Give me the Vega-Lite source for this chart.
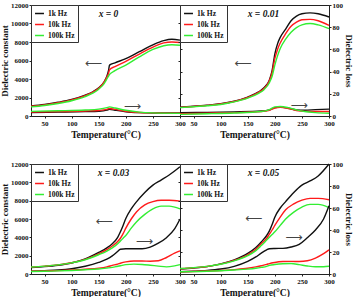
{
  "$schema": "https://vega.github.io/schema/vega-lite/v6.json",
  "padding": {"left": 0, "top": 0, "right": 0, "bottom": 0},
  "background": "white",
  "data": {
    "values": [
      {"p":"0","q":"c","T":25,"1k Hz":1100,"10k Hz":1050,"100k Hz":980},
      {"p":"0","q":"c","T":50,"1k Hz":1250,"10k Hz":1200,"100k Hz":1130},
      {"p":"0","q":"c","T":75,"1k Hz":1480,"10k Hz":1430,"100k Hz":1350},
      {"p":"0","q":"c","T":100,"1k Hz":1780,"10k Hz":1730,"100k Hz":1650},
      {"p":"0","q":"c","T":125,"1k Hz":2250,"10k Hz":2200,"100k Hz":2100},
      {"p":"0","q":"c","T":140,"1k Hz":2650,"10k Hz":2600,"100k Hz":2500},
      {"p":"0","q":"c","T":150,"1k Hz":3050,"10k Hz":3000,"100k Hz":2900},
      {"p":"0","q":"c","T":160,"1k Hz":3700,"10k Hz":3650,"100k Hz":3500},
      {"p":"0","q":"c","T":165,"1k Hz":4300,"10k Hz":4200,"100k Hz":4000},
      {"p":"0","q":"c","T":168,"1k Hz":4900,"10k Hz":4600,"100k Hz":4300},
      {"p":"0","q":"c","T":170,"1k Hz":5500,"10k Hz":5000,"100k Hz":4500},
      {"p":"0","q":"c","T":180,"1k Hz":5750,"10k Hz":5350,"100k Hz":4900},
      {"p":"0","q":"c","T":200,"1k Hz":6200,"10k Hz":5900,"100k Hz":5500},
      {"p":"0","q":"c","T":225,"1k Hz":6950,"10k Hz":6700,"100k Hz":6400},
      {"p":"0","q":"c","T":250,"1k Hz":7700,"10k Hz":7450,"100k Hz":7200},
      {"p":"0","q":"c","T":270,"1k Hz":8150,"10k Hz":7900,"100k Hz":7600},
      {"p":"0","q":"c","T":285,"1k Hz":8300,"10k Hz":8000,"100k Hz":7700},
      {"p":"0","q":"c","T":300,"1k Hz":8200,"10k Hz":7950,"100k Hz":7650},

      {"p":"0","q":"l","T":25,"1k Hz":3.2,"10k Hz":3.6,"100k Hz":4.2},
      {"p":"0","q":"l","T":75,"1k Hz":3.5,"10k Hz":4,"100k Hz":4.7},
      {"p":"0","q":"l","T":125,"1k Hz":3.9,"10k Hz":4.5,"100k Hz":5.4},
      {"p":"0","q":"l","T":150,"1k Hz":4.3,"10k Hz":5,"100k Hz":6.2},
      {"p":"0","q":"l","T":165,"1k Hz":5.3,"10k Hz":6,"100k Hz":7.5},
      {"p":"0","q":"l","T":170,"1k Hz":6,"10k Hz":6.8,"100k Hz":8.2},
      {"p":"0","q":"l","T":180,"1k Hz":5.2,"10k Hz":6,"100k Hz":7.2},
      {"p":"0","q":"l","T":200,"1k Hz":3.8,"10k Hz":4.3,"100k Hz":5.2},
      {"p":"0","q":"l","T":225,"1k Hz":3,"10k Hz":3.2,"100k Hz":3.5},
      {"p":"0","q":"l","T":250,"1k Hz":2.7,"10k Hz":2.8,"100k Hz":2.8},
      {"p":"0","q":"l","T":300,"1k Hz":2.7,"10k Hz":2.5,"100k Hz":2.4},

      {"p":"0.01","q":"c","T":25,"1k Hz":950,"10k Hz":930,"100k Hz":900},
      {"p":"0.01","q":"c","T":50,"1k Hz":1050,"10k Hz":1030,"100k Hz":1000},
      {"p":"0.01","q":"c","T":75,"1k Hz":1170,"10k Hz":1150,"100k Hz":1110},
      {"p":"0.01","q":"c","T":100,"1k Hz":1320,"10k Hz":1300,"100k Hz":1250},
      {"p":"0.01","q":"c","T":125,"1k Hz":1600,"10k Hz":1570,"100k Hz":1520},
      {"p":"0.01","q":"c","T":150,"1k Hz":2050,"10k Hz":2000,"100k Hz":1930},
      {"p":"0.01","q":"c","T":170,"1k Hz":2600,"10k Hz":2550,"100k Hz":2450},
      {"p":"0.01","q":"c","T":180,"1k Hz":3050,"10k Hz":2980,"100k Hz":2850},
      {"p":"0.01","q":"c","T":190,"1k Hz":3900,"10k Hz":3800,"100k Hz":3600},
      {"p":"0.01","q":"c","T":195,"1k Hz":4900,"10k Hz":4700,"100k Hz":4300},
      {"p":"0.01","q":"c","T":200,"1k Hz":6700,"10k Hz":6200,"100k Hz":5500},
      {"p":"0.01","q":"c","T":205,"1k Hz":7800,"10k Hz":7200,"100k Hz":6500},
      {"p":"0.01","q":"c","T":210,"1k Hz":8500,"10k Hz":7900,"100k Hz":7300},
      {"p":"0.01","q":"c","T":220,"1k Hz":9400,"10k Hz":8900,"100k Hz":8300},
      {"p":"0.01","q":"c","T":230,"1k Hz":10300,"10k Hz":9700,"100k Hz":9050},
      {"p":"0.01","q":"c","T":240,"1k Hz":10800,"10k Hz":10150,"100k Hz":9550},
      {"p":"0.01","q":"c","T":250,"1k Hz":11050,"10k Hz":10400,"100k Hz":9850},
      {"p":"0.01","q":"c","T":265,"1k Hz":11150,"10k Hz":10450,"100k Hz":10000},
      {"p":"0.01","q":"c","T":280,"1k Hz":11050,"10k Hz":10300,"100k Hz":9850},
      {"p":"0.01","q":"c","T":300,"1k Hz":10700,"10k Hz":9800,"100k Hz":9450},

      {"p":"0.01","q":"l","T":25,"1k Hz":3,"10k Hz":2,"100k Hz":1.5},
      {"p":"0.01","q":"l","T":75,"1k Hz":3.3,"10k Hz":2.5,"100k Hz":2},
      {"p":"0.01","q":"l","T":125,"1k Hz":3.7,"10k Hz":3,"100k Hz":2.7},
      {"p":"0.01","q":"l","T":175,"1k Hz":4.5,"10k Hz":4,"100k Hz":4},
      {"p":"0.01","q":"l","T":190,"1k Hz":5.5,"10k Hz":5.2,"100k Hz":5.8},
      {"p":"0.01","q":"l","T":200,"1k Hz":7.5,"10k Hz":7.2,"100k Hz":8.2},
      {"p":"0.01","q":"l","T":210,"1k Hz":8,"10k Hz":7.8,"100k Hz":8.6},
      {"p":"0.01","q":"l","T":225,"1k Hz":7,"10k Hz":6.8,"100k Hz":7.5},
      {"p":"0.01","q":"l","T":240,"1k Hz":5.5,"10k Hz":5,"100k Hz":5.5},
      {"p":"0.01","q":"l","T":255,"1k Hz":5.2,"10k Hz":4.2,"100k Hz":4},
      {"p":"0.01","q":"l","T":275,"1k Hz":5.7,"10k Hz":4,"100k Hz":3},
      {"p":"0.01","q":"l","T":300,"1k Hz":6.2,"10k Hz":4,"100k Hz":2.5},

      {"p":"0.03","q":"c","T":25,"1k Hz":700,"10k Hz":760,"100k Hz":760},
      {"p":"0.03","q":"c","T":50,"1k Hz":800,"10k Hz":860,"100k Hz":860},
      {"p":"0.03","q":"c","T":75,"1k Hz":950,"10k Hz":1000,"100k Hz":1000},
      {"p":"0.03","q":"c","T":100,"1k Hz":1200,"10k Hz":1230,"100k Hz":1220},
      {"p":"0.03","q":"c","T":125,"1k Hz":1650,"10k Hz":1600,"100k Hz":1550},
      {"p":"0.03","q":"c","T":150,"1k Hz":2350,"10k Hz":2200,"100k Hz":2100},
      {"p":"0.03","q":"c","T":165,"1k Hz":2850,"10k Hz":2650,"100k Hz":2500},
      {"p":"0.03","q":"c","T":175,"1k Hz":3300,"10k Hz":3050,"100k Hz":2850},
      {"p":"0.03","q":"c","T":185,"1k Hz":4000,"10k Hz":3550,"100k Hz":3300},
      {"p":"0.03","q":"c","T":190,"1k Hz":4600,"10k Hz":3900,"100k Hz":3600},
      {"p":"0.03","q":"c","T":195,"1k Hz":5300,"10k Hz":4400,"100k Hz":3900},
      {"p":"0.03","q":"c","T":200,"1k Hz":6050,"10k Hz":5000,"100k Hz":4200},
      {"p":"0.03","q":"c","T":210,"1k Hz":7100,"10k Hz":6000,"100k Hz":5000},
      {"p":"0.03","q":"c","T":220,"1k Hz":7900,"10k Hz":6800,"100k Hz":5700},
      {"p":"0.03","q":"c","T":235,"1k Hz":8900,"10k Hz":7550,"100k Hz":6500},
      {"p":"0.03","q":"c","T":250,"1k Hz":9700,"10k Hz":7900,"100k Hz":7100},
      {"p":"0.03","q":"c","T":265,"1k Hz":10250,"10k Hz":8050,"100k Hz":7400},
      {"p":"0.03","q":"c","T":280,"1k Hz":10800,"10k Hz":8050,"100k Hz":7400},
      {"p":"0.03","q":"c","T":300,"1k Hz":11700,"10k Hz":7950,"100k Hz":7100},

      {"p":"0.03","q":"l","T":25,"1k Hz":2.5,"10k Hz":2.5,"100k Hz":2.3},
      {"p":"0.03","q":"l","T":50,"1k Hz":3,"10k Hz":2.8,"100k Hz":2.5},
      {"p":"0.03","q":"l","T":75,"1k Hz":3.6,"10k Hz":3.1,"100k Hz":2.8},
      {"p":"0.03","q":"l","T":100,"1k Hz":4.8,"10k Hz":3.6,"100k Hz":3.2},
      {"p":"0.03","q":"l","T":125,"1k Hz":7,"10k Hz":4.3,"100k Hz":3.8},
      {"p":"0.03","q":"l","T":150,"1k Hz":10.5,"10k Hz":5.3,"100k Hz":4.6},
      {"p":"0.03","q":"l","T":165,"1k Hz":13.5,"10k Hz":6.5,"100k Hz":5.4},
      {"p":"0.03","q":"l","T":175,"1k Hz":16.5,"10k Hz":7.8,"100k Hz":6},
      {"p":"0.03","q":"l","T":185,"1k Hz":20.5,"10k Hz":9,"100k Hz":7},
      {"p":"0.03","q":"l","T":190,"1k Hz":22.5,"10k Hz":9.8,"100k Hz":7.5},
      {"p":"0.03","q":"l","T":200,"1k Hz":23,"10k Hz":11,"100k Hz":8.5},
      {"p":"0.03","q":"l","T":215,"1k Hz":23,"10k Hz":11.8,"100k Hz":9},
      {"p":"0.03","q":"l","T":230,"1k Hz":23,"10k Hz":11.8,"100k Hz":8.7},
      {"p":"0.03","q":"l","T":245,"1k Hz":24.5,"10k Hz":11.6,"100k Hz":8},
      {"p":"0.03","q":"l","T":260,"1k Hz":28,"10k Hz":12,"100k Hz":7.2},
      {"p":"0.03","q":"l","T":275,"1k Hz":33,"10k Hz":15,"100k Hz":6.5},
      {"p":"0.03","q":"l","T":290,"1k Hz":41,"10k Hz":19,"100k Hz":7.4},
      {"p":"0.03","q":"l","T":300,"1k Hz":50,"10k Hz":21,"100k Hz":8.5},

      {"p":"0.05","q":"c","T":25,"1k Hz":550,"10k Hz":580,"100k Hz":600},
      {"p":"0.05","q":"c","T":50,"1k Hz":650,"10k Hz":680,"100k Hz":700},
      {"p":"0.05","q":"c","T":75,"1k Hz":800,"10k Hz":820,"100k Hz":830},
      {"p":"0.05","q":"c","T":100,"1k Hz":1100,"10k Hz":1080,"100k Hz":1060},
      {"p":"0.05","q":"c","T":125,"1k Hz":1550,"10k Hz":1480,"100k Hz":1430},
      {"p":"0.05","q":"c","T":150,"1k Hz":2250,"10k Hz":2100,"100k Hz":2000},
      {"p":"0.05","q":"c","T":165,"1k Hz":2900,"10k Hz":2700,"100k Hz":2550},
      {"p":"0.05","q":"c","T":175,"1k Hz":3500,"10k Hz":3300,"100k Hz":3100},
      {"p":"0.05","q":"c","T":185,"1k Hz":4200,"10k Hz":3900,"100k Hz":3700},
      {"p":"0.05","q":"c","T":190,"1k Hz":4700,"10k Hz":4350,"100k Hz":4000},
      {"p":"0.05","q":"c","T":195,"1k Hz":5400,"10k Hz":4800,"100k Hz":4300},
      {"p":"0.05","q":"c","T":200,"1k Hz":6200,"10k Hz":5300,"100k Hz":4600},
      {"p":"0.05","q":"c","T":210,"1k Hz":7200,"10k Hz":6200,"100k Hz":5300},
      {"p":"0.05","q":"c","T":220,"1k Hz":7900,"10k Hz":7000,"100k Hz":6000},
      {"p":"0.05","q":"c","T":235,"1k Hz":8900,"10k Hz":7650,"100k Hz":6750},
      {"p":"0.05","q":"c","T":250,"1k Hz":9700,"10k Hz":8050,"100k Hz":7300},
      {"p":"0.05","q":"c","T":265,"1k Hz":10150,"10k Hz":8250,"100k Hz":7600},
      {"p":"0.05","q":"c","T":280,"1k Hz":10700,"10k Hz":8250,"100k Hz":7600},
      {"p":"0.05","q":"c","T":300,"1k Hz":12000,"10k Hz":8100,"100k Hz":7250},

      {"p":"0.05","q":"l","T":25,"1k Hz":2,"10k Hz":2,"100k Hz":2},
      {"p":"0.05","q":"l","T":50,"1k Hz":2.5,"10k Hz":2.3,"100k Hz":2.2},
      {"p":"0.05","q":"l","T":75,"1k Hz":3.2,"10k Hz":2.7,"100k Hz":2.5},
      {"p":"0.05","q":"l","T":100,"1k Hz":4.5,"10k Hz":3.2,"100k Hz":3},
      {"p":"0.05","q":"l","T":125,"1k Hz":7,"10k Hz":4,"100k Hz":3.6},
      {"p":"0.05","q":"l","T":150,"1k Hz":11.5,"10k Hz":5.2,"100k Hz":4.4},
      {"p":"0.05","q":"l","T":165,"1k Hz":15.5,"10k Hz":6.5,"100k Hz":5.2},
      {"p":"0.05","q":"l","T":175,"1k Hz":19,"10k Hz":7.5,"100k Hz":6},
      {"p":"0.05","q":"l","T":185,"1k Hz":22,"10k Hz":8.7,"100k Hz":7},
      {"p":"0.05","q":"l","T":190,"1k Hz":23,"10k Hz":9.5,"100k Hz":7.8},
      {"p":"0.05","q":"l","T":200,"1k Hz":23.2,"10k Hz":10.5,"100k Hz":8.6},
      {"p":"0.05","q":"l","T":215,"1k Hz":23.3,"10k Hz":11.3,"100k Hz":9.3},
      {"p":"0.05","q":"l","T":230,"1k Hz":24.5,"10k Hz":11.5,"100k Hz":9.5},
      {"p":"0.05","q":"l","T":245,"1k Hz":27,"10k Hz":11.3,"100k Hz":8.5},
      {"p":"0.05","q":"l","T":260,"1k Hz":33,"10k Hz":12,"100k Hz":7.3},
      {"p":"0.05","q":"l","T":275,"1k Hz":40,"10k Hz":14.5,"100k Hz":6.6},
      {"p":"0.05","q":"l","T":290,"1k Hz":50,"10k Hz":18.5,"100k Hz":6.6},
      {"p":"0.05","q":"l","T":300,"1k Hz":62,"10k Hz":22,"100k Hz":7},

      {"p":"0","q":"aL","T":140,"v":5700,"s":"⟵"},
      {"p":"0","q":"aR","T":212,"v":9,"s":"⟶"},
      {"p":"0.01","q":"aL","T":141,"v":5730,"s":"⟵"},
      {"p":"0.01","q":"aR","T":245,"v":10,"s":"⟶"},
      {"p":"0.03","q":"aL","T":160,"v":5770,"s":"⟵"},
      {"p":"0.03","q":"aR","T":234,"v":30,"s":"⟶"},
      {"p":"0.05","q":"aL","T":161,"v":6130,"s":"⟵"},
      {"p":"0.05","q":"aR","T":235,"v":33.7,"s":"⟶"}
    ]
  },
  "columns": 2,
  "spacing": {"row": 48, "column": 0},
  "bounds": "flush",
  "resolve": {"legend": {"color": "independent"}},
  "concat": [
    {
      "width": 149, "height": 111,
      "title": {"text": "x = 0", "dx": 3},
      "transform": [{"filter": "datum.p === '0'"}],
      "layer": [
        {
          "transform": [{"filter": "datum.q === 'c'"}, {"fold": ["1k Hz", "10k Hz", "100k Hz"], "as": ["f", "v"]}],
          "mark": {"type": "line", "interpolate": "monotone", "strokeWidth": 1.4},
          "encoding": {
            "x": {"field": "T", "type": "quantitative", "title": "Temperature(°C)", "scale": {"domain": [25, 300]}, "axis": {"values": [50, 100, 150, 200, 250, 300], "labelOverlap": false, "labelFlush": false, "labelSeparation": 0}},
            "y": {"field": "v", "type": "quantitative", "scale": {"domain": [0, 12000]}, "axis": {"values": [0, 2000, 4000, 6000, 8000, 10000, 12000], "title": "Dielectric constant", "format": "d", "labelOverlap": false}},
            "color": {"field": "f", "type": "nominal", "scale": {"domain": ["1k Hz", "10k Hz", "100k Hz"], "range": ["#111111", "#ff1a1a", "#33ee33"]}, "legend": {"title": null}}
          }
        },
        {
          "transform": [{"filter": "datum.q === 'l'"}, {"fold": ["1k Hz", "10k Hz", "100k Hz"], "as": ["f", "v"]}],
          "mark": {"type": "line", "interpolate": "monotone", "strokeWidth": 1.4},
          "encoding": {
            "x": {"field": "T", "type": "quantitative", "title": "Temperature(°C)", "scale": {"domain": [25, 300]}, "axis": {"values": [50, 100, 150, 200, 250, 300], "labelOverlap": false, "labelFlush": false, "labelSeparation": 0}},
            "y": {"field": "v", "type": "quantitative", "scale": {"domain": [0, 100]}, "axis": {"orient": "right", "values": [0, 20, 40, 60, 80, 100], "labels": false, "title": null}},
            "color": {"field": "f", "type": "nominal", "scale": {"domain": ["1k Hz", "10k Hz", "100k Hz"], "range": ["#111111", "#ff1a1a", "#33ee33"]}, "legend": {"title": null}}
          }
        },
        {
          "transform": [{"filter": "datum.q === 'aL'"}],
          "mark": {"type": "text", "font": "DejaVu Sans", "fontSize": 12, "color": "#444444"},
          "encoding": {
            "x": {"field": "T", "type": "quantitative", "title": "Temperature(°C)", "scale": {"domain": [25, 300]}, "axis": {"values": [50, 100, 150, 200, 250, 300], "labelOverlap": false, "labelFlush": false, "labelSeparation": 0}},
            "y": {"field": "v", "type": "quantitative", "scale": {"domain": [0, 12000]}, "axis": null},
            "text": {"field": "s"}
          }
        },
        {
          "transform": [{"filter": "datum.q === 'aR'"}],
          "mark": {"type": "text", "font": "DejaVu Sans", "fontSize": 12, "color": "#444444"},
          "encoding": {
            "x": {"field": "T", "type": "quantitative", "title": "Temperature(°C)", "scale": {"domain": [25, 300]}, "axis": {"values": [50, 100, 150, 200, 250, 300], "labelOverlap": false, "labelFlush": false, "labelSeparation": 0}},
            "y": {"field": "v", "type": "quantitative", "scale": {"domain": [0, 100]}, "axis": null},
            "text": {"field": "s"}
          }
        }
      ],
      "resolve": {"scale": {"y": "independent"}}
    },
    {
      "width": 149, "height": 111,
      "title": {"text": "x = 0.01", "dx": 9},
      "transform": [{"filter": "datum.p === '0.01'"}],
      "layer": [
        {
          "transform": [{"filter": "datum.q === 'c'"}, {"fold": ["1k Hz", "10k Hz", "100k Hz"], "as": ["f", "v"]}],
          "mark": {"type": "line", "interpolate": "monotone", "strokeWidth": 1.4},
          "encoding": {
            "x": {"field": "T", "type": "quantitative", "title": "Temperature(°C)", "scale": {"domain": [25, 300]}, "axis": {"values": [50, 100, 150, 200, 250, 300], "labelOverlap": false, "labelFlush": false, "labelSeparation": 0}},
            "y": {"field": "v", "type": "quantitative", "scale": {"domain": [0, 12000]}, "axis": {"values": [0, 2000, 4000, 6000, 8000, 10000, 12000], "labels": false, "title": null}},
            "color": {"field": "f", "type": "nominal", "scale": {"domain": ["1k Hz", "10k Hz", "100k Hz"], "range": ["#111111", "#ff1a1a", "#33ee33"]}, "legend": {"title": null}}
          }
        },
        {
          "transform": [{"filter": "datum.q === 'l'"}, {"fold": ["1k Hz", "10k Hz", "100k Hz"], "as": ["f", "v"]}],
          "mark": {"type": "line", "interpolate": "monotone", "strokeWidth": 1.4},
          "encoding": {
            "x": {"field": "T", "type": "quantitative", "title": "Temperature(°C)", "scale": {"domain": [25, 300]}, "axis": {"values": [50, 100, 150, 200, 250, 300], "labelOverlap": false, "labelFlush": false, "labelSeparation": 0}},
            "y": {"field": "v", "type": "quantitative", "scale": {"domain": [0, 100]}, "axis": {"orient": "right", "values": [0, 20, 40, 60, 80, 100], "title": "Dielectric loss", "labelOverlap": false}},
            "color": {"field": "f", "type": "nominal", "scale": {"domain": ["1k Hz", "10k Hz", "100k Hz"], "range": ["#111111", "#ff1a1a", "#33ee33"]}, "legend": {"title": null}}
          }
        },
        {
          "transform": [{"filter": "datum.q === 'aL'"}],
          "mark": {"type": "text", "font": "DejaVu Sans", "fontSize": 12, "color": "#444444"},
          "encoding": {
            "x": {"field": "T", "type": "quantitative", "title": "Temperature(°C)", "scale": {"domain": [25, 300]}, "axis": {"values": [50, 100, 150, 200, 250, 300], "labelOverlap": false, "labelFlush": false, "labelSeparation": 0}},
            "y": {"field": "v", "type": "quantitative", "scale": {"domain": [0, 12000]}, "axis": null},
            "text": {"field": "s"}
          }
        },
        {
          "transform": [{"filter": "datum.q === 'aR'"}],
          "mark": {"type": "text", "font": "DejaVu Sans", "fontSize": 12, "color": "#444444"},
          "encoding": {
            "x": {"field": "T", "type": "quantitative", "title": "Temperature(°C)", "scale": {"domain": [25, 300]}, "axis": {"values": [50, 100, 150, 200, 250, 300], "labelOverlap": false, "labelFlush": false, "labelSeparation": 0}},
            "y": {"field": "v", "type": "quantitative", "scale": {"domain": [0, 100]}, "axis": null},
            "text": {"field": "s"}
          }
        }
      ],
      "resolve": {"scale": {"y": "independent"}}
    },
    {
      "width": 149, "height": 110,
      "title": {"text": "x = 0.03", "dx": 8},
      "transform": [{"filter": "datum.p === '0.03'"}],
      "layer": [
        {
          "transform": [{"filter": "datum.q === 'c'"}, {"fold": ["1k Hz", "10k Hz", "100k Hz"], "as": ["f", "v"]}],
          "mark": {"type": "line", "interpolate": "monotone", "strokeWidth": 1.4},
          "encoding": {
            "x": {"field": "T", "type": "quantitative", "title": "Temperature(°C)", "scale": {"domain": [25, 300]}, "axis": {"values": [50, 100, 150, 200, 250, 300], "labelOverlap": false, "labelFlush": false, "labelSeparation": 0}},
            "y": {"field": "v", "type": "quantitative", "scale": {"domain": [0, 12000]}, "axis": {"values": [0, 2000, 4000, 6000, 8000, 10000, 12000], "title": "Dielectric constant", "format": "d", "labelOverlap": false}},
            "color": {"field": "f", "type": "nominal", "scale": {"domain": ["1k Hz", "10k Hz", "100k Hz"], "range": ["#111111", "#ff1a1a", "#33ee33"]}, "legend": {"title": null}}
          }
        },
        {
          "transform": [{"filter": "datum.q === 'l'"}, {"fold": ["1k Hz", "10k Hz", "100k Hz"], "as": ["f", "v"]}],
          "mark": {"type": "line", "interpolate": "monotone", "strokeWidth": 1.4},
          "encoding": {
            "x": {"field": "T", "type": "quantitative", "title": "Temperature(°C)", "scale": {"domain": [25, 300]}, "axis": {"values": [50, 100, 150, 200, 250, 300], "labelOverlap": false, "labelFlush": false, "labelSeparation": 0}},
            "y": {"field": "v", "type": "quantitative", "scale": {"domain": [0, 100]}, "axis": {"orient": "right", "values": [0, 20, 40, 60, 80, 100], "labels": false, "title": null}},
            "color": {"field": "f", "type": "nominal", "scale": {"domain": ["1k Hz", "10k Hz", "100k Hz"], "range": ["#111111", "#ff1a1a", "#33ee33"]}, "legend": {"title": null}}
          }
        },
        {
          "transform": [{"filter": "datum.q === 'aL'"}],
          "mark": {"type": "text", "font": "DejaVu Sans", "fontSize": 12, "color": "#444444"},
          "encoding": {
            "x": {"field": "T", "type": "quantitative", "title": "Temperature(°C)", "scale": {"domain": [25, 300]}, "axis": {"values": [50, 100, 150, 200, 250, 300], "labelOverlap": false, "labelFlush": false, "labelSeparation": 0}},
            "y": {"field": "v", "type": "quantitative", "scale": {"domain": [0, 12000]}, "axis": null},
            "text": {"field": "s"}
          }
        },
        {
          "transform": [{"filter": "datum.q === 'aR'"}],
          "mark": {"type": "text", "font": "DejaVu Sans", "fontSize": 12, "color": "#444444"},
          "encoding": {
            "x": {"field": "T", "type": "quantitative", "title": "Temperature(°C)", "scale": {"domain": [25, 300]}, "axis": {"values": [50, 100, 150, 200, 250, 300], "labelOverlap": false, "labelFlush": false, "labelSeparation": 0}},
            "y": {"field": "v", "type": "quantitative", "scale": {"domain": [0, 100]}, "axis": null},
            "text": {"field": "s"}
          }
        }
      ],
      "resolve": {"scale": {"y": "independent"}}
    },
    {
      "width": 149, "height": 110,
      "title": {"text": "x = 0.05", "dx": 9},
      "transform": [{"filter": "datum.p === '0.05'"}],
      "layer": [
        {
          "transform": [{"filter": "datum.q === 'c'"}, {"fold": ["1k Hz", "10k Hz", "100k Hz"], "as": ["f", "v"]}],
          "mark": {"type": "line", "interpolate": "monotone", "strokeWidth": 1.4},
          "encoding": {
            "x": {"field": "T", "type": "quantitative", "title": "Temperature(°C)", "scale": {"domain": [25, 300]}, "axis": {"values": [50, 100, 150, 200, 250, 300], "labelOverlap": false, "labelFlush": false, "labelSeparation": 0}},
            "y": {"field": "v", "type": "quantitative", "scale": {"domain": [0, 12000]}, "axis": {"values": [0, 2000, 4000, 6000, 8000, 10000, 12000], "labels": false, "title": null}},
            "color": {"field": "f", "type": "nominal", "scale": {"domain": ["1k Hz", "10k Hz", "100k Hz"], "range": ["#111111", "#ff1a1a", "#33ee33"]}, "legend": {"title": null}}
          }
        },
        {
          "transform": [{"filter": "datum.q === 'l'"}, {"fold": ["1k Hz", "10k Hz", "100k Hz"], "as": ["f", "v"]}],
          "mark": {"type": "line", "interpolate": "monotone", "strokeWidth": 1.4},
          "encoding": {
            "x": {"field": "T", "type": "quantitative", "title": "Temperature(°C)", "scale": {"domain": [25, 300]}, "axis": {"values": [50, 100, 150, 200, 250, 300], "labelOverlap": false, "labelFlush": false, "labelSeparation": 0}},
            "y": {"field": "v", "type": "quantitative", "scale": {"domain": [0, 100]}, "axis": {"orient": "right", "values": [0, 20, 40, 60, 80, 100], "title": "Dielectric loss", "labelOverlap": false}},
            "color": {"field": "f", "type": "nominal", "scale": {"domain": ["1k Hz", "10k Hz", "100k Hz"], "range": ["#111111", "#ff1a1a", "#33ee33"]}, "legend": {"title": null}}
          }
        },
        {
          "transform": [{"filter": "datum.q === 'aL'"}],
          "mark": {"type": "text", "font": "DejaVu Sans", "fontSize": 12, "color": "#444444"},
          "encoding": {
            "x": {"field": "T", "type": "quantitative", "title": "Temperature(°C)", "scale": {"domain": [25, 300]}, "axis": {"values": [50, 100, 150, 200, 250, 300], "labelOverlap": false, "labelFlush": false, "labelSeparation": 0}},
            "y": {"field": "v", "type": "quantitative", "scale": {"domain": [0, 12000]}, "axis": null},
            "text": {"field": "s"}
          }
        },
        {
          "transform": [{"filter": "datum.q === 'aR'"}],
          "mark": {"type": "text", "font": "DejaVu Sans", "fontSize": 12, "color": "#444444"},
          "encoding": {
            "x": {"field": "T", "type": "quantitative", "title": "Temperature(°C)", "scale": {"domain": [25, 300]}, "axis": {"values": [50, 100, 150, 200, 250, 300], "labelOverlap": false, "labelFlush": false, "labelSeparation": 0}},
            "y": {"field": "v", "type": "quantitative", "scale": {"domain": [0, 100]}, "axis": null},
            "text": {"field": "s"}
          }
        }
      ],
      "resolve": {"scale": {"y": "independent"}}
    }
  ],
  "config": {
    "font": "Liberation Serif",
    "view": {"stroke": "#222222", "strokeWidth": 1},
    "axis": {
      "grid": false,
      "domainColor": "#222222",
      "tickColor": "#222222",
      "tickSize": 2,
      "labelFont": "Liberation Serif",
      "labelFontSize": 7,
      "labelFontWeight": "bold",
      "labelColor": "#111111",
      "labelPadding": 1,
      "labelFlush": false,
      "labelOverlap": false,
      "titleFont": "Liberation Serif",
      "titleFontSize": 9,
      "titleFontWeight": "bold",
      "titleColor": "#111111",
      "titlePadding": 1
    },
    "axisX": {"titlePadding": 3, "titleFontSize": 9.5},
    "legend": {
      "orient": "top-left",
      "offset": 0,
      "padding": 3,
      "strokeColor": "#333333",
      "fillColor": "white",
      "symbolType": "stroke",
      "symbolSize": 80,
      "symbolStrokeWidth": 1.5,
      "labelFont": "Liberation Serif",
      "labelFontSize": 7.5,
      "labelFontWeight": "bold",
      "labelColor": "#111111",
      "labelOffset": 3,
      "rowPadding": 2
    },
    "title": {
      "frame": "group",
      "anchor": "middle",
      "orient": "top",
      "offset": -17,
      "font": "Liberation Serif",
      "fontSize": 9.5,
      "fontStyle": "italic",
      "fontWeight": "bold",
      "color": "#111111"
    }
  }
}
